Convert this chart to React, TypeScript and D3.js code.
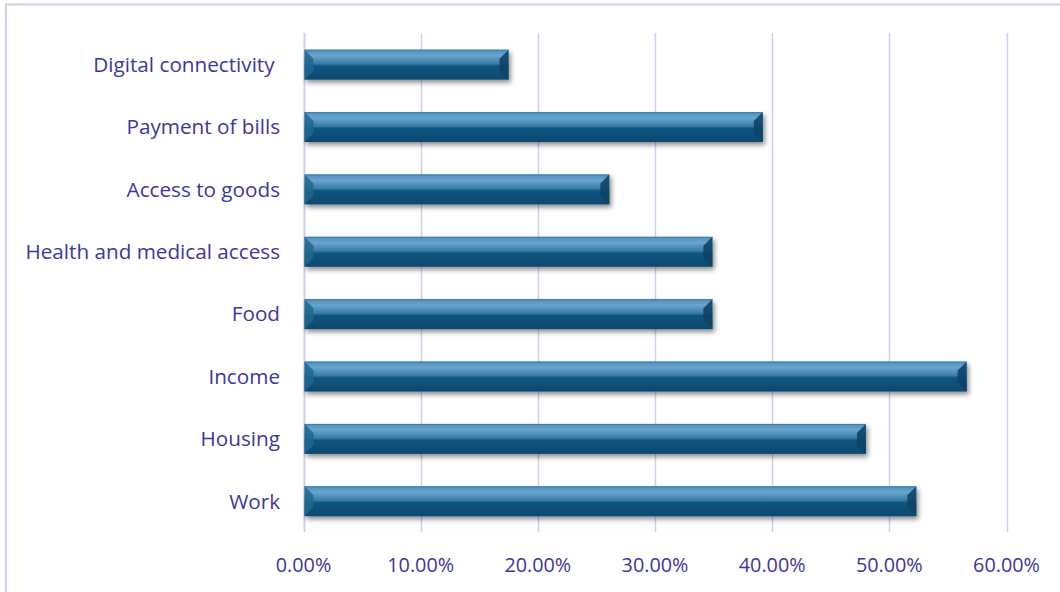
import * as d3 from 'd3';
import React, { useEffect, useRef } from 'react';

const categories = [
  'Digital connectivity ',
  'Payment of bills',
  'Access to goods',
  'Health and medical access',
  'Food',
  'Income',
  'Housing',
  'Work',
];
const values = [0.175, 0.392, 0.261, 0.349, 0.349, 0.566, 0.48, 0.523];
const ticks = [0, 0.1, 0.2, 0.3, 0.4, 0.5, 0.6];

const App = () => {
  const svgRef = useRef<SVGSVGElement>(null);

  useEffect(() => {
    const width = 1060;
    const height = 592;
    const svg = d3.select(svgRef.current).attr('width', width).attr('height', height);
    svg.selectAll('*').remove();

    const textColor = '#3b37a3';
    const gridColor = '#d2cdf0';
    const font = '"Open Sans", Lato, sans-serif';

    // outer frame
    svg
      .append('rect')
      .attr('x', 6)
      .attr('y', 4.5)
      .attr('width', 1070)
      .attr('height', 600)
      .attr('fill', '#fff')
      .attr('stroke', gridColor)
      .attr('stroke-width', 2);

    const defs = svg.append('defs');
    const grad = defs
      .append('linearGradient')
      .attr('id', 'barGrad')
      .attr('x1', 0)
      .attr('y1', 0)
      .attr('x2', 0)
      .attr('y2', 1);
    grad.append('stop').attr('offset', '0%').attr('stop-color', '#4f8fba');
    grad.append('stop').attr('offset', '20%').attr('stop-color', '#68a5cd');
    grad.append('stop').attr('offset', '47%').attr('stop-color', '#3a7aa6');
    grad.append('stop').attr('offset', '54%').attr('stop-color', '#0f5680');
    grad.append('stop').attr('offset', '100%').attr('stop-color', '#0b486e');

    const shadow = defs.append('filter').attr('id', 'shadow').attr('x', '-5%').attr('y', '-30%').attr('width', '110%').attr('height', '180%');
    shadow.append('feGaussianBlur').attr('in', 'SourceAlpha').attr('stdDeviation', 2.5);
    shadow.append('feOffset').attr('dx', 2).attr('dy', 3).attr('result', 'blur');
    shadow.append('feComponentTransfer').append('feFuncA').attr('type', 'linear').attr('slope', 0.45);
    const merge = shadow.append('feMerge');
    merge.append('feMergeNode');
    merge.append('feMergeNode').attr('in', 'SourceGraphic');

    const x = d3.scaleLinear().domain([0, 0.6]).range([303.5, 1006.5]);
    const y = d3.scaleBand().domain(categories).range([33.5, 532.5]).paddingInner(0.52).paddingOuter(0.26);

    // gridlines
    svg
      .append('g')
      .selectAll('line')
      .data(ticks)
      .join('line')
      .attr('x1', (d) => Math.round(x(d)) + 0.5)
      .attr('x2', (d) => Math.round(x(d)) + 0.5)
      .attr('y1', 33)
      .attr('y2', 532)
      .attr('stroke', gridColor)
      .attr('stroke-width', (d) => (d === 0 ? 2 : 1.5));

    // x tick labels
    svg
      .append('g')
      .selectAll('text')
      .data(ticks)
      .join('text')
      .attr('x', (d) => x(d))
      .attr('y', 572)
      .attr('text-anchor', 'middle')
      .attr('fill', textColor)
      .style('font-family', font)
      .style('font-size', '19.8px')
      .text((d) => d3.format('.2%')(d));

    // category labels
    svg
      .append('g')
      .selectAll('text')
      .data(categories)
      .join('text')
      .attr('x', 280)
      .attr('y', (d) => (y(d) as number) + y.bandwidth() / 2)
      .attr('dy', '0.35em')
      .attr('text-anchor', 'end')
      .attr('fill', textColor)
      .style('font-family', font)
      .style('font-size', '20.7px')
      .style('white-space', 'pre')
      .text((d) => d);

    // bars
    const bars = svg
      .append('g')
      .selectAll('g')
      .data(categories.map((c, i) => ({ c, v: values[i] })))
      .join('g')
      .attr('filter', 'url(#shadow)');

    const bw = y.bandwidth();
    const bev = 9;
    bars
      .append('rect')
      .attr('x', x(0) + 1)
      .attr('y', (d) => y(d.c) as number)
      .attr('width', (d) => x(d.v) - x(0) - 1)
      .attr('height', bw)
      .attr('fill', 'url(#barGrad)');

    // left bevel
    bars
      .append('path')
      .attr('d', (d) => {
        const y0 = y(d.c) as number;
        const x0 = x(0) + 1;
        return `M${x0},${y0} L${x0 + bev},${y0 + bev} L${x0 + bev},${y0 + bw - bev} L${x0},${y0 + bw} Z`;
      })
      .attr('fill', '#1d6690')
      .attr('opacity', 0.85);

    // right bevel
    bars
      .append('path')
      .attr('d', (d) => {
        const y0 = y(d.c) as number;
        const x1 = x(d.v);
        return `M${x1},${y0} L${x1 - bev},${y0 + bev} L${x1 - bev},${y0 + bw - bev} L${x1},${y0 + bw} Z`;
      })
      .attr('fill', '#0d4466')
      .attr('opacity', 0.9);

    // top edge highlight
    bars
      .append('line')
      .attr('x1', x(0) + 1)
      .attr('x2', (d) => x(d.v))
      .attr('y1', (d) => (y(d.c) as number) + 0.5)
      .attr('y2', (d) => (y(d.c) as number) + 0.5)
      .attr('stroke', '#3f7ea8')
      .attr('stroke-width', 1);
  }, []);

  return <svg ref={svgRef} style={{ position: 'absolute', left: 0, top: 0 }} />;
};

export default App;
